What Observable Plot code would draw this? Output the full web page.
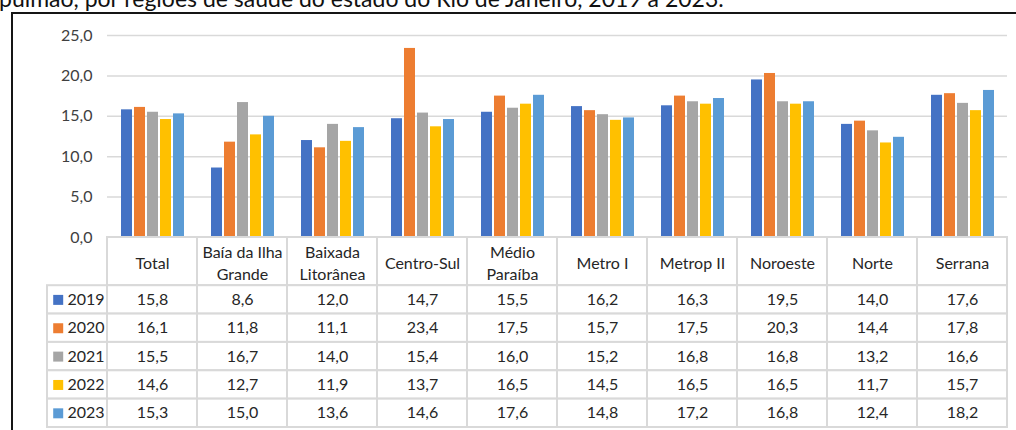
<!DOCTYPE html>
<html><head><meta charset="utf-8">
<script src="https://cdn.jsdelivr.net/npm/d3@7"></script>
<script src="https://cdn.jsdelivr.net/npm/@observablehq/plot@0.6"></script>
<style>
body{margin:0;background:#fff;width:1016px;height:430px;overflow:hidden;position:relative;font-family:Lato,"Open Sans",sans-serif}
#title{position:absolute;left:-1px;top:-13px;font-size:23px;line-height:23px;color:#111;white-space:nowrap}
#frame{position:absolute;left:11px;top:12px;width:1100px;height:500px;border-top:2px solid #151515;border-left:2px solid #151515}
#chart{position:absolute;left:0;top:0}
#table{position:absolute;left:0;top:237px}
svg{display:block}
</style></head><body>
<div id="title">pulmão, por regiões de saúde do estado do Rio de Janeiro, 2019 a 2023.</div>
<div id="frame"></div>
<div id="chart"></div>
<div id="table"></div>
<script>
const categories = ["Total","Baía da Ilha Grande","Baixada Litorânea","Centro-Sul","Médio Paraíba","Metro I","Metrop II","Noroeste","Norte","Serrana"];
const headerLabels = ["Total","Baía da Ilha\nGrande","Baixada\nLitorânea","Centro-Sul","Médio\nParaíba","Metro I","Metrop II","Noroeste","Norte","Serrana"];
const years = ["2019","2020","2021","2022","2023"];
const colors = ["#4472C4","#ED7D31","#A5A5A5","#FFC000","#5B9BD5"];
const v2019 = [15.8,8.6,12.0,14.7,15.5,16.2,16.3,19.5,14.0,17.6];
const v2020 = [16.1,11.8,11.1,23.4,17.5,15.7,17.5,20.3,14.4,17.8];
const v2021 = [15.5,16.7,14.0,15.4,16.0,15.2,16.8,16.8,13.2,16.6];
const v2022 = [14.6,12.7,11.9,13.7,16.5,14.5,16.5,16.5,11.7,15.7];
const v2023 = [15.3,15.0,13.6,14.6,17.6,14.8,17.2,16.8,12.4,18.2];
const yTicks = [0,5,10,15,20,25];

const series = [v2019,v2020,v2021,v2022,v2023];
const fmt = d => d.toFixed(1).replace(".", ",");
const data = categories.flatMap((c,i) => years.map((y,j) => ({category:c, year:y, value:series[j][i]})));
const textColor = "#262626";
const gridColor = "#d9d9d9";

const chart = Plot.plot({
  width:1016, height:238, marginTop:35, marginBottom:1, marginLeft:107, marginRight:9,
  style:{fontFamily:"Lato, sans-serif", fontSize:"16px", color:textColor, background:"transparent", overflow:"visible"},
  fx:{domain:categories, padding:0, axis:null, label:null},
  x:{domain:years, paddingInner:0.19, paddingOuter:0.81, axis:null},
  y:{domain:[0,25], axis:null},
  color:{domain:years, range:colors},
  marks:[
    Plot.ruleY(yTicks, {stroke:gridColor, strokeWidth:1.5}),
    Plot.axisY(yTicks, {tickSize:0, tickPadding:15, tickFormat:fmt, fill:"#404040", fontSize:16, label:null}),
    Plot.barY(data, {fx:"category", x:"year", y:"value", fill:"year"})
  ]
});
document.getElementById("chart").append(chart);

// data table
const headerH = 1.7;
const legendW = 60/90;
const headerCells = categories.map((c,i) => ({i, label:headerLabels[i]}));
const bodyCells = years.flatMap((y,j) => [{x1:-legendW, x2:0, j}].concat(categories.map((c,i) => ({x1:i, x2:i+1, j, text:fmt(series[j][i])}))));
const legendRows = years.map((y,j) => ({year:y, j}));

const table = Plot.plot({
  width:1016, height:193, marginTop:0, marginBottom:3, marginLeft:47, marginRight:9,
  style:{fontFamily:"Lato, sans-serif", fontSize:"16px", color:textColor, background:"transparent", overflow:"visible"},
  x:{type:"linear", domain:[-legendW, categories.length], axis:null},
  y:{type:"linear", domain:[years.length, -headerH], axis:null},
  color:{domain:years, range:colors},
  marks:[
    Plot.rect(headerCells, {x1:d => d.i, x2:d => d.i+1, y1:-headerH, y2:0, fill:"white", stroke:gridColor, strokeWidth:2}),
    Plot.rect(bodyCells, {x1:"x1", x2:"x2", y1:d => d.j, y2:d => d.j+1, fill:"white", stroke:gridColor, strokeWidth:2}),
    Plot.text(headerCells, {x:d => d.i+0.5, y:-headerH/2, text:"label", lineHeight:1.375, fill:textColor, fontSize:16}),
    Plot.text(bodyCells.filter(d => d.text), {x:d => d.x1+0.5, y:d => d.j+0.5, text:"text", fill:textColor, fontSize:16}),
    Plot.dot(legendRows, {x:-legendW, y:d => d.j+0.5, dx:10.7, symbol:"square", r:5.64, fill:"year", stroke:"none"}),
    Plot.text(legendRows, {x:-legendW, y:d => d.j+0.5, dx:20, text:"year", textAnchor:"start", fill:textColor, fontSize:16})
  ]
});
document.getElementById("table").append(table);
</script>
</body></html>
